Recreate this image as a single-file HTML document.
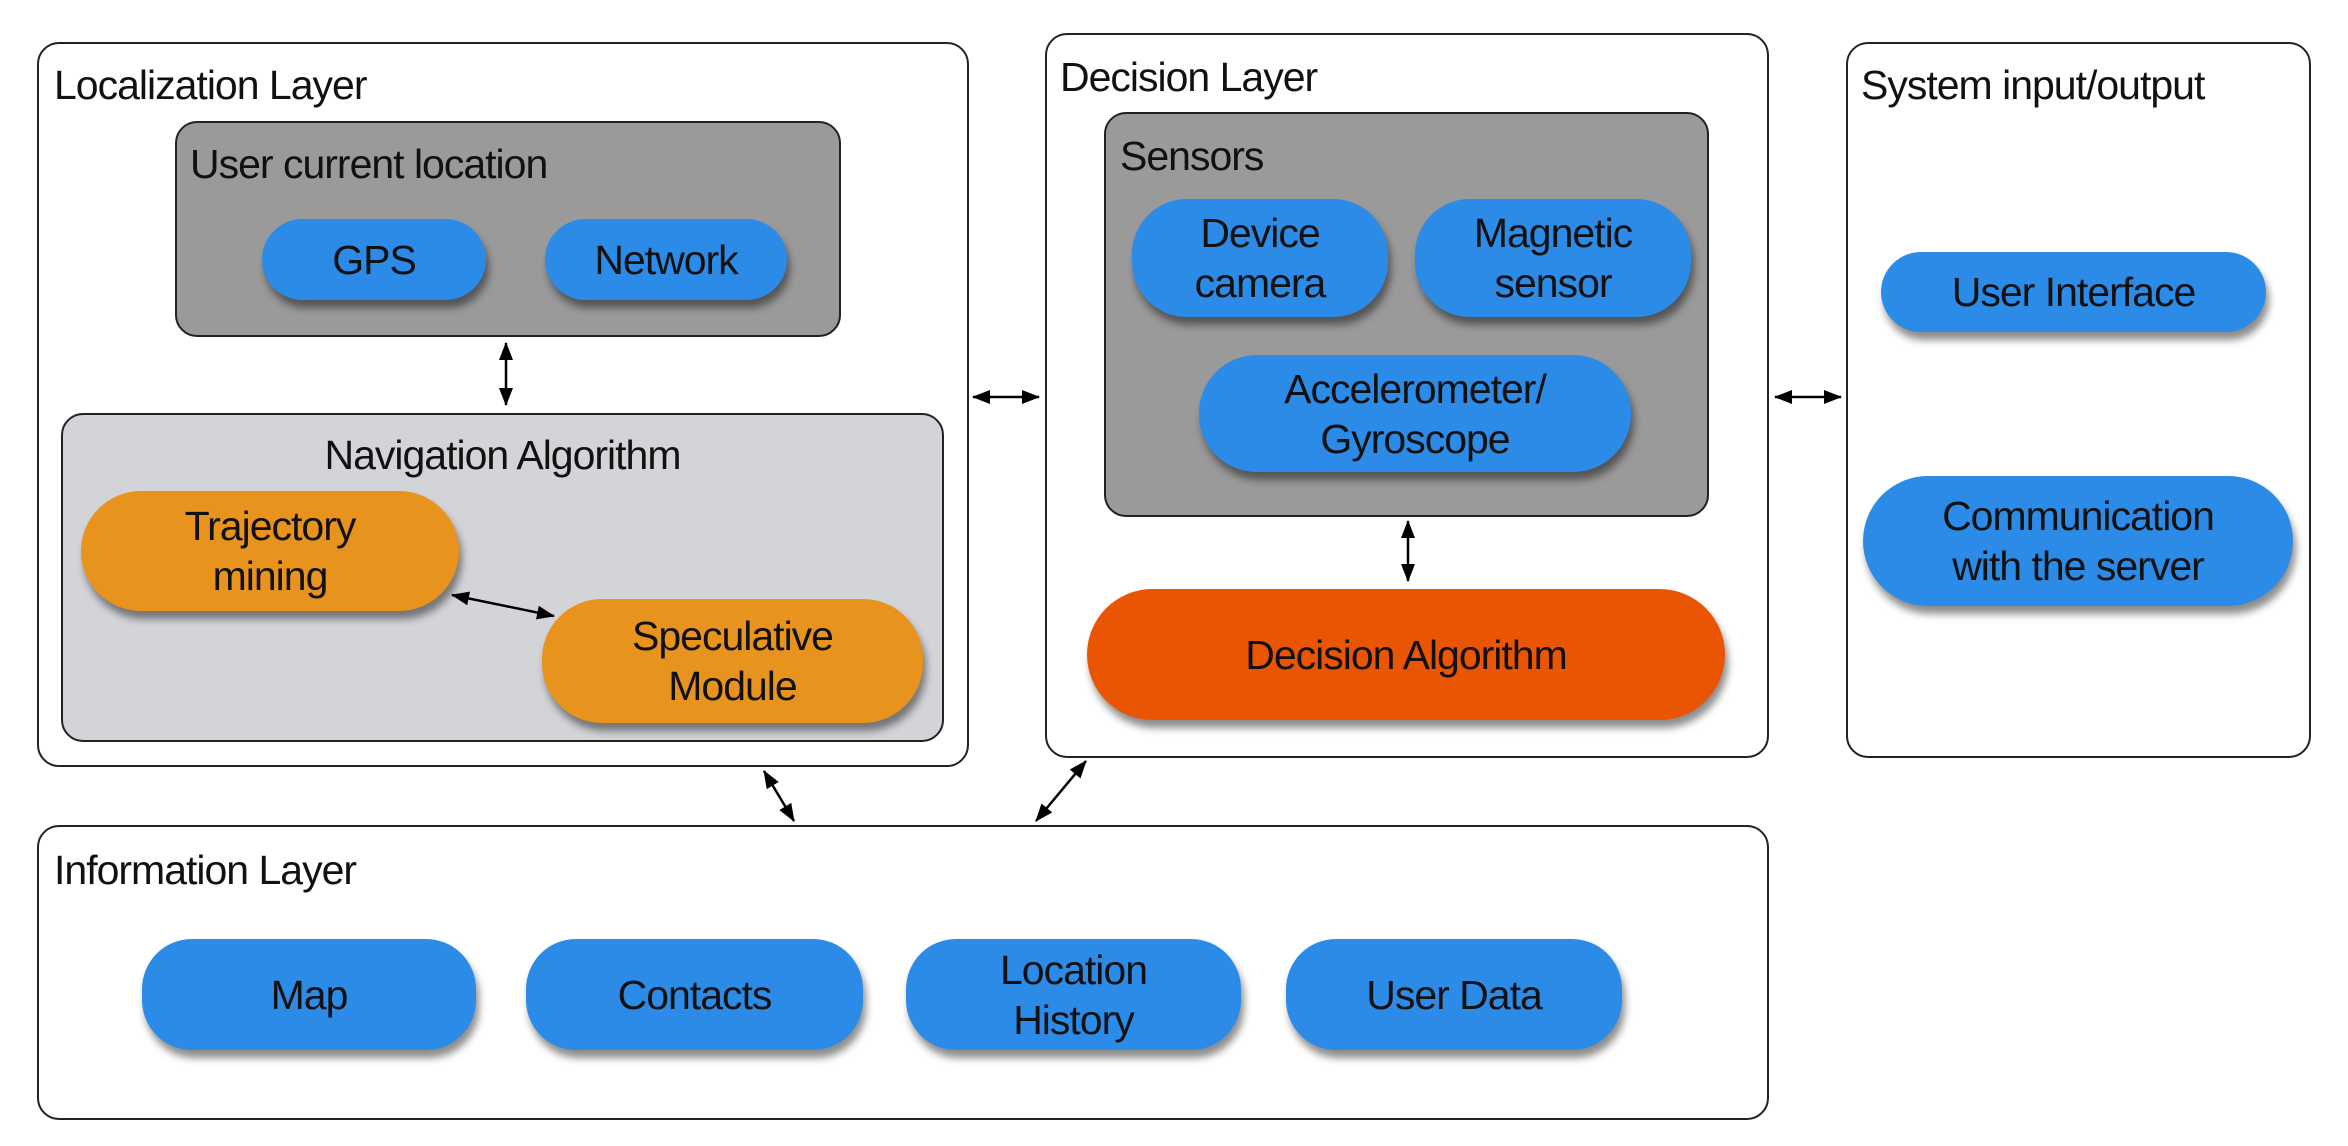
<!DOCTYPE html>
<html><head><meta charset="utf-8"><style>
body{margin:0;width:2348px;height:1146px;background:#fff;position:relative;overflow:hidden;font-family:"Liberation Sans",Arial,sans-serif;color:#111}
.b{position:absolute;box-sizing:border-box;border:2.5px solid #222;border-radius:22px}
.t{position:absolute;font-size:41px;white-space:nowrap;letter-spacing:-1px}
.p{position:absolute;box-sizing:border-box;display:flex;align-items:center;justify-content:center;text-align:center;font-size:41px;line-height:50px;letter-spacing:-1px;box-shadow:3px 8px 8px rgba(0,0,0,0.45)}
.bl{background:#2b8be6;border-radius:45px}
.or{background:#e8931e;border-radius:60px}
svg{position:absolute;left:0;top:0}
</style></head><body>
<div class="b" style="left:37px;top:42px;width:932px;height:725px"></div>
<div class="t" style="left:54px;top:62px">Localization Layer</div>
<div class="b" style="left:175px;top:121px;width:666px;height:216px;background:#9a9a9b"></div>
<div class="t" style="left:190px;top:141px">User current location</div>
<div class="p bl" style="left:262px;top:219px;width:224px;height:81px">GPS</div>
<div class="p bl" style="left:545px;top:219px;width:242px;height:81px">Network</div>
<div class="b" style="left:61px;top:413px;width:883px;height:329px;background:#d3d4d8"></div>
<div class="t" style="left:61px;width:883px;text-align:center;top:432px">Navigation Algorithm</div>
<div class="p or" style="left:81px;top:491px;width:378px;height:120px">Trajectory<br>mining</div>
<div class="p or" style="left:542px;top:599px;width:381px;height:124px">Speculative<br>Module</div>

<div class="b" style="left:1045px;top:33px;width:724px;height:725px"></div>
<div class="t" style="left:1060px;top:54px">Decision Layer</div>
<div class="b" style="left:1104px;top:112px;width:605px;height:405px;background:#9a9a9b"></div>
<div class="t" style="left:1120px;top:133px">Sensors</div>
<div class="p bl" style="left:1132px;top:199px;width:256px;height:118px;border-radius:55px">Device<br>camera</div>
<div class="p bl" style="left:1415px;top:199px;width:276px;height:118px;border-radius:55px">Magnetic<br>sensor</div>
<div class="p bl" style="left:1199px;top:355px;width:432px;height:117px;border-radius:58px">Accelerometer/<br>Gyroscope</div>
<div class="p" style="left:1087px;top:589px;width:638px;height:131px;background:#ea5504;border-radius:66px">Decision Algorithm</div>

<div class="b" style="left:1846px;top:42px;width:465px;height:716px"></div>
<div class="t" style="left:1861px;top:62px">System input/output</div>
<div class="p bl" style="left:1881px;top:252px;width:385px;height:80px">User Interface</div>
<div class="p bl" style="left:1863px;top:476px;width:430px;height:130px;border-radius:65px">Communication<br>with the server</div>

<div class="b" style="left:37px;top:825px;width:1732px;height:295px"></div>
<div class="t" style="left:54px;top:847px">Information Layer</div>
<div class="p bl" style="left:142px;top:939px;width:334px;height:111px;border-radius:50px">Map</div>
<div class="p bl" style="left:526px;top:939px;width:337px;height:111px;border-radius:50px">Contacts</div>
<div class="p bl" style="left:906px;top:939px;width:335px;height:111px;border-radius:50px">Location<br>History</div>
<div class="p bl" style="left:1286px;top:939px;width:336px;height:111px;border-radius:50px">User Data</div>

<svg width="2348" height="1146">
<defs>
<marker id="m" markerWidth="18" markerHeight="14" refX="17" refY="7" orient="auto-start-reverse" markerUnits="userSpaceOnUse"><path d="M0,0 L18,7 L0,14 z" fill="#000"/></marker></defs>
<g stroke="#000" stroke-width="2.5" fill="none">
<line x1="506" y1="343" x2="506" y2="405" marker-start="url(#m)" marker-end="url(#m)"/>
<line x1="452" y1="595" x2="554" y2="616" marker-start="url(#m)" marker-end="url(#m)"/>
<line x1="1408" y1="521" x2="1408" y2="581" marker-start="url(#m)" marker-end="url(#m)"/>
<line x1="973" y1="397" x2="1039" y2="397" marker-start="url(#m)" marker-end="url(#m)"/>
<line x1="1775" y1="397" x2="1841" y2="397" marker-start="url(#m)" marker-end="url(#m)"/>
<line x1="764" y1="771" x2="794" y2="821" marker-start="url(#m)" marker-end="url(#m)"/>
<line x1="1086" y1="761" x2="1036" y2="821" marker-start="url(#m)" marker-end="url(#m)"/>
</g></svg>
</body></html>
